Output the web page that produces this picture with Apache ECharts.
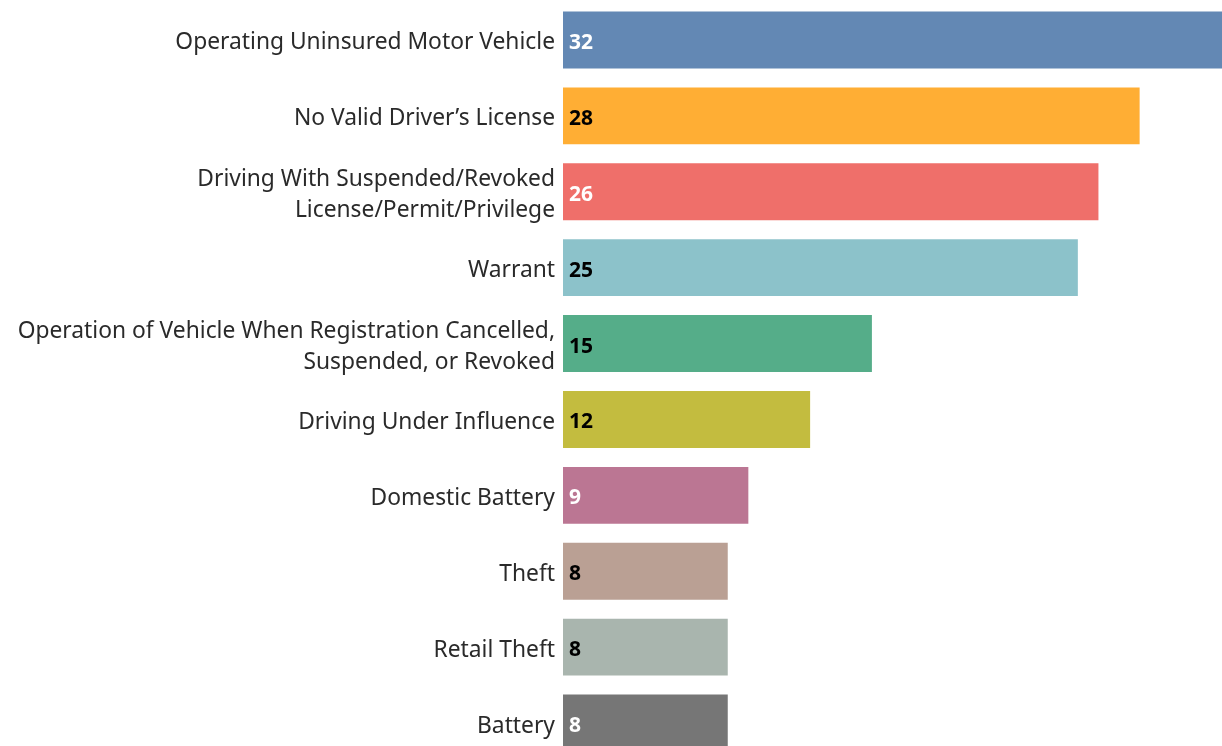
<!DOCTYPE html>
<html>
<head>
<meta charset="utf-8">
<script src="https://cdn.jsdelivr.net/npm/echarts@6/dist/echarts.min.js"></script>
<style>
  html, body { margin: 0; padding: 0; background: #fff; }
  #main { width: 1222px; height: 746px; }
</style>
</head>
<body>
<div id="main"></div>
<script>
const categories = [
  'Operating Uninsured Motor Vehicle',
  'No Valid Driver\u2019s License',
  'Driving With Suspended/Revoked\nLicense/Permit/Privilege',
  'Warrant',
  'Operation of Vehicle When Registration Cancelled,\nSuspended, or Revoked',
  'Driving Under Influence',
  'Domestic Battery',
  'Theft',
  'Retail Theft',
  'Battery'
]
const counts = [32, 28, 26, 25, 15, 12, 9, 8, 8, 8]
const barColors = ['#6388b4', '#ffae34', '#ef6f6a', '#8cc2ca', '#55ad89',
  '#c3bc3f', '#bb7693', '#baa094', '#a9b5ae', '#767676']
const labelColors = ['#fff', '#000', '#fff', '#000', '#000',
  '#000', '#fff', '#000', '#000', '#fff']

const chart = echarts.init(document.getElementById('main'))
const options = {
  backgroundColor: '#fff',
  animation: false,
  grid: {
    left: 563,
    right: 0,
    top: 2,
    height: 759,
    outerBoundsMode: 'none'
  },
  xAxis: {
    type: 'value',
    min: 0,
    max: 32,
    show: false
  },
  yAxis: {
    type: 'category',
    inverse: true,
    data: categories,
    axisLine: { show: false },
    axisTick: { show: false },
    splitLine: { show: false },
    axisLabel: {
      margin: 8,
      align: 'right',
      // nudge the text a few px down, like the original
      formatter: v => v.split('\n').map(l => '{a|' + l + '}').join('\n'),
      rich: {
        a: {
          color: '#2a2a2a',
          fontFamily: 'Noto Sans',
          fontSize: 22.8,
          lineHeight: 31,
          padding: [6, 0, 0, 0]
        }
      }
    }
  },
  series: [
    {
      type: 'bar',
      barCategoryGap: '25%',
      data: counts.map((v, i) => ({
        value: v,
        itemStyle: { color: barColors[i] },
        label: { color: labelColors[i] }
      })),
      label: {
        show: true,
        position: 'insideLeft',
        distance: 6,
        offset: [0, 3],
        fontFamily: 'Noto Sans',
        fontWeight: 'bold',
        fontSize: 21
      }
    }
  ]
}
chart.setOption(options)
</script>
</body>
</html>
